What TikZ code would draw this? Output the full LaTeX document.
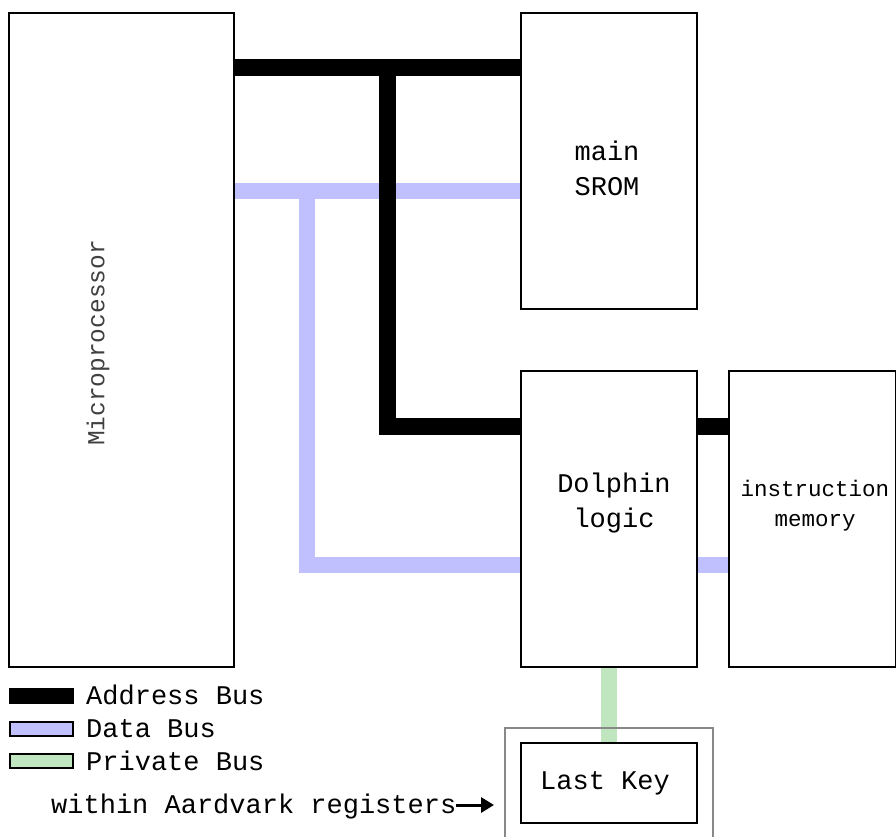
\documentclass[tikz,border=0pt]{standalone}
\usepackage{fontspec}
\setmainfont{Liberation Mono}
\usetikzlibrary{arrows.meta}
\definecolor{databus}{RGB}{192,192,255}
\definecolor{privbus}{RGB}{192,230,192}
\definecolor{outergrey}{RGB}{136,136,136}
\tikzset{
  blockbox/.style={draw=black, line width=2pt, fill=white, inner sep=0pt, outer sep=0pt},
  addrbus/.style={draw=black, line width=17pt},
  databusline/.style={draw=databus, line width=16pt},
  privbusline/.style={draw=privbus, line width=16pt},
  legbox/.style={draw=black, line width=2pt, minimum width=63pt, minimum height=14pt, inner sep=0pt},
  lbl/.style={font=\fontsize{27}{30}\selectfont, inner sep=0pt},
  smalllbl/.style={font=\fontsize{22.5}{30}\selectfont, inner sep=0pt, align=center},
}
\begin{document}
\begin{tikzpicture}[x=1pt,y=-1pt]
\useasboundingbox (0,0) rectangle (896,836);
% coordinates of bus junctions
\coordinate (aj) at (387,67);
\coordinate (ab) at (387,426);
\coordinate (dj) at (307,191);
\coordinate (db) at (307,565);
% blocks (positions only, drawn later)
\path (121.5,340) node[blockbox, draw=none, fill=none, minimum width=225pt, minimum height=654pt] (mp) {};
\path (609,161) node[blockbox, draw=none, fill=none, minimum width=176pt, minimum height=296pt] (srom) {};
\path (609,519) node[blockbox, draw=none, fill=none, minimum width=176pt, minimum height=296pt] (dol) {};
\path (812.5,519) node[blockbox, draw=none, fill=none, minimum width=167pt, minimum height=296pt] (im) {};
\path (609,783) node[blockbox, draw=none, fill=none, minimum width=176pt, minimum height=80pt] (lk) {};
% data bus
\draw[databusline] (mp.east |- dj) -- (srom.west |- dj);
\draw[databusline] (dj) -- (db) -- (dol.west |- db);
\draw[databusline] (dol.east |- db) -- (im.west |- db);
% address bus
\draw[addrbus] (mp.east |- aj) -- (srom.west |- aj);
\draw[addrbus] (aj) -- (ab) -- (dol.west |- ab);
\draw[addrbus] (dol.east |- ab) -- (im.west |- ab);
% private bus
\draw[privbusline] (dol.south) -- (lk.north -| dol.south);
% outer grey box
\draw[outergrey, line width=2pt] (505,850) -- (505,728) -- (713,728) -- (713,850);
% blocks
\node[blockbox, minimum width=225pt, minimum height=654pt] at (mp) {};
\node[lbl, rotate=90, text=black!75, font=\fontsize{24.5}{30}\selectfont] (mptext) at (98,343) {Microprocessor};
\node[blockbox, minimum width=176pt, minimum height=296pt] at (srom) {};
\node[lbl, align=center, font=\fontsize{27}{35}\selectfont] (sromtext) at (607,168) {main\\SROM};
\node[blockbox, minimum width=176pt, minimum height=296pt] at (dol) {};
\node[lbl, align=center, font=\fontsize{27}{35}\selectfont] (doltext) at (614,503) {Dolphin\\logic};
\node[blockbox, minimum width=167pt, minimum height=296pt] at (im) {};
\node[smalllbl, font=\fontsize{22.5}{30}\selectfont] (imtext) at (815,506) {instruction\\memory};
\node[blockbox, minimum width=176pt, minimum height=80pt] at (lk) {};
\node[lbl] (lktext) at (605,783) {Last Key};
% legend
\node[legbox, fill=black] (lA) at (41,696) {};
\node[lbl, anchor=west] (tA) at (86,695) {Address Bus};
\node[legbox, fill=databus] (lD) at (41,728.5) {};
\node[lbl, anchor=west] (tD) at (86,729) {Data Bus};
\node[legbox, fill=privbus] (lP) at (41,761) {};
\node[lbl, anchor=west] (tP) at (86,761) {Private Bus};
\node[lbl, anchor=west] (within) at (51,806) {within Aardvark registers};
\coordinate (atip) at (494,805);
\draw[line width=3pt, -{Triangle[length=13pt,width=15pt]}] (within.east |- atip) -- (atip);
\end{tikzpicture}
\end{document}
